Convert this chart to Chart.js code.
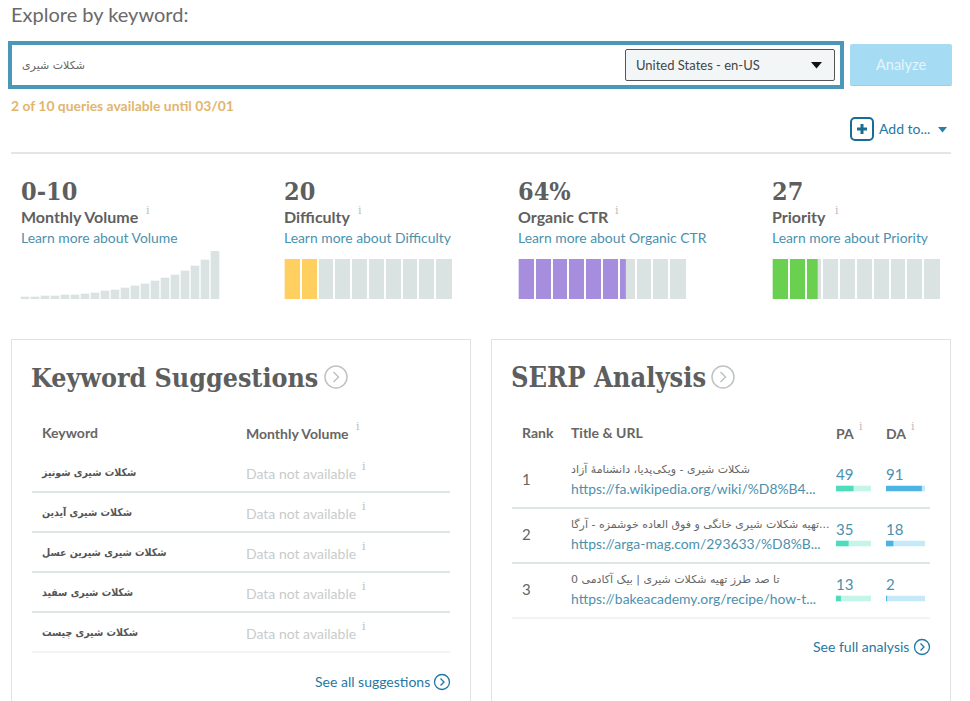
<!DOCTYPE html>
<html>
<head>
<meta charset="utf-8">
<title>Explore by keyword</title>
<script src="https://cdn.jsdelivr.net/npm/chart.js@4"></script>
<style>
    html, body { margin: 0; padding: 0; background: #fff; }
    body { width: 970px; height: 701px; overflow: hidden; position: relative; font-family: Lato, sans-serif; color: #5f6060; }
    .t { position: absolute; white-space: nowrap; line-height: 20px; height: 20px; }
    .box { position: absolute; box-sizing: border-box; }
    canvas { position: absolute; display: block; }
    .slab { font-family: "DejaVu Serif", serif; font-weight: 700; font-stretch: condensed; color: #5d5e5e; }
    .link { color: #4b91ae; font-size: 13.9px; }
    .dark-link { color: #1f78a4; font-size: 14px; }
    .head { font-size: 14px; font-weight: 700; color: #666; }
    .i { position: absolute; font-family: "DejaVu Serif", serif; font-size: 11px; line-height: 10px; color: #bcbcbc; }
    .fa { font-family: "DejaVu Sans", sans-serif; }
    .line { position: absolute; height: 2px; background: #dfe4e4; }
    svg { position: absolute; }
</style>
</head>
<body>
<div class="t" style="left:11px;top:4px;font-size:20px;color:#6a6a6a">Explore by keyword:</div>

<div class="box" style="left:8px;top:41px;width:836px;height:48px;border:4px solid #4a97b8"></div>
<div class="t fa" dir="rtl" style="left:22px;top:56px;font-size:11px;color:#666">شکلات شیری</div>
<div class="box" style="left:625px;top:49px;width:210px;height:32px;background:#f2f6f6;border:1px solid #555;border-radius:2px"></div>
<div class="t" style="left:636px;top:55px;font-size:13px;color:#444">United States - en-US</div>
<svg style="left:811px;top:62px" width="11" height="7"><path d="M0 0H11L5.5 6.5Z" fill="#111"/></svg>
<div class="box" style="left:850px;top:44px;width:102px;height:42px;background:#a6dcf3;border-radius:2px;border-bottom:1px solid #9ccfe6"></div>
<div class="t" style="left:876px;top:55px;font-size:14.5px;color:#e4f5fc">Analyze</div>

<div class="t" style="left:11px;top:96px;font-size:13.9px;font-weight:700;color:#e2b56c">2 of 10 queries available until 03/01</div>

<div class="box" style="left:850px;top:117px;width:24px;height:24px;border:2px solid #1a6c93;border-radius:5px"></div>
<svg style="left:857px;top:124px" width="10" height="10"><path d="M3.5 0h3v3.5H10v3H6.5V10h-3V6.5H0v-3h3.5Z" fill="#1a6c93"/></svg>
<div class="t dark-link" style="left:879px;top:119px">Add to...</div>
<svg style="left:938px;top:127px" width="9" height="6"><path d="M0 0H9L4.5 5.5Z" fill="#2a7fa8"/></svg>
<div class="line" style="left:11px;top:152px;width:940px;background:#e3e6e6"></div>

<div id="kpis"></div>

<canvas id="volumeChart" width="200" height="48" style="left:20px;top:251px"></canvas>
<canvas id="difficultyChart" width="168" height="40" style="left:284px;top:259px"></canvas>
<canvas id="ctrChart" width="168" height="40" style="left:518px;top:259px"></canvas>
<canvas id="priorityChart" width="168" height="40" style="left:772px;top:259px"></canvas>

<div class="box" style="left:11px;top:339px;width:460px;height:400px;border:1px solid #dfe3e3"></div>
<div class="box" style="left:491px;top:339px;width:460px;height:400px;border:1px solid #dfe3e3"></div>

<div class="t slab" style="left:31px;top:368px;font-size:26.6px">Keyword Suggestions</div>
<svg style="left:324px;top:365px" width="24" height="24"><circle cx="12" cy="12" r="11" fill="none" stroke="#bfc3c3" stroke-width="1.5"/><path d="M9.5 7l5 5-5 5" fill="none" stroke="#bfc3c3" stroke-width="1.5"/></svg>
<div class="t slab" style="left:511px;top:368px;font-size:27px">SERP Analysis</div>
<svg style="left:711px;top:365px" width="24" height="24"><circle cx="12" cy="12" r="11" fill="none" stroke="#bfc3c3" stroke-width="1.5"/><path d="M9.5 7l5 5-5 5" fill="none" stroke="#bfc3c3" stroke-width="1.5"/></svg>

<div class="t head" style="left:42px;top:423px">Keyword</div>
<div class="t head" style="left:246px;top:424px">Monthly Volume</div>
<div class="i" style="left:356px;top:422px">i</div>
<div id="suggestions"></div>
<div class="t dark-link" style="left:315px;top:672px">See all suggestions</div>
<svg style="left:433px;top:673px" width="18" height="18"><circle cx="9" cy="9" r="7.5" fill="none" stroke="#1f78a4" stroke-width="1.3"/><path d="M7.5 5.5l3.5 3.5-3.5 3.5" fill="none" stroke="#1f78a4" stroke-width="1.3"/></svg>

<div class="t head" style="left:522px;top:423px">Rank</div>
<div class="t head" style="left:571px;top:423px">Title &amp; URL</div>
<div class="t head" style="left:836px;top:424px">PA</div>
<div class="t head" style="left:886px;top:424px">DA</div>
<div class="i" style="left:859px;top:422px">i</div>
<div class="i" style="left:911px;top:422px">i</div>
<div id="serpRows"></div>
<canvas id="paChart" width="35" height="165" style="left:836px;top:461px"></canvas>
<canvas id="daChart" width="39" height="165" style="left:886px;top:461px"></canvas>
<div class="t dark-link" style="left:813px;top:637px">See full analysis</div>
<svg style="left:913px;top:638px" width="18" height="18"><circle cx="9" cy="9" r="7.5" fill="none" stroke="#1f78a4" stroke-width="1.3"/><path d="M7.5 5.5l3.5 3.5-3.5 3.5" fill="none" stroke="#1f78a4" stroke-width="1.3"/></svg>

<script>
const volumeMonths = ['1', '2', '3', '4', '5', '6', '7', '8', '9', '10', '11', '12', '13', '14', '15', '16', '17', '18', '19', '20'];
const volumeValues = [2, 2, 3, 3, 4, 4, 5, 6, 8, 9, 11, 13, 15, 18, 21, 24, 28, 33, 39, 48];

const kpiValues = ['0-10', '20', '64%', '27'];
const kpiLabels = ['Monthly Volume', 'Difficulty', 'Organic CTR', 'Priority'];
const kpiLinks = ['Learn more about Volume', 'Learn more about Difficulty', 'Learn more about Organic CTR', 'Learn more about Priority'];
const kpiLeft = [21, 284, 518, 772];
const kpiInfoLeft = [146, 358, 615, 835];

const difficulty = 20;
const organicCtr = 64;
const priority = 27;

const suggestedKeywords = ['شکلات شیری شونیز', 'شکلات شیری آیدین', 'شکلات شیری شیرین عسل', 'شکلات شیری سفید', 'شکلات شیری چیست'];

const serpRanks = ['1', '2', '3'];
const serpTitles = ['شکلات شیری - ویکی‌پدیا، دانشنامهٔ آزاد', '...تهیه شکلات شیری خانگی و فوق العاده خوشمزه - آرگا', 'تا صد طرز تهیه شکلات شیری | بیک آکادمی 0'];
const serpUrls = ['https://fa.wikipedia.org/wiki/%D8%B4...', 'https://arga-mag.com/293633/%D8%B...', 'https://bakeacademy.org/recipe/how-t...'];
const paValues = [49, 35, 13];
const daValues = [91, 18, 2];

// Testi KPI
document.getElementById('kpis').innerHTML = kpiValues.map((v, i) => `
    <div class="t slab" style="left:${kpiLeft[i]}px;top:182px;font-size:25px">${v}</div>
    <div class="t" style="left:${kpiLeft[i]}px;top:207px;font-size:16px;font-weight:700;color:#5f6060">${kpiLabels[i]}</div>
    <div class="i" style="left:${kpiInfoLeft[i]}px;top:206px">i</div>
    <div class="t link" style="left:${kpiLeft[i]}px;top:228px">${kpiLinks[i]}</div>
`).join('');

// Tabella suggerimenti
document.getElementById('suggestions').innerHTML = suggestedKeywords.map((k, i) => `
    <div class="t fa" dir="rtl" style="left:42px;top:${462 + i * 40}px;font-size:10.5px;font-weight:700;font-stretch:condensed;color:#555">${k}</div>
    <div class="t" style="left:246px;top:${464 + i * 40}px;font-size:14px;color:#c8cccc">Data not available</div>
    <div class="i" style="left:362px;top:${462 + i * 40}px">i</div>
    <div class="line" style="left:32px;top:${491 + i * 40}px;width:418px;${i === 4 ? 'background:#f1f4f4' : ''}"></div>
`).join('');

// Tabella SERP
document.getElementById('serpRows').innerHTML = serpRanks.map((r, i) => `
    <div class="t" style="left:522px;top:${469 + i * 55}px;font-size:15px;color:#666">${r}</div>
    <div class="t fa" dir="rtl" style="left:571px;top:${460 + i * 55}px;font-size:11px;color:#666">${serpTitles[i]}</div>
    <div class="t link" style="left:571px;top:${479 + i * 55}px">${serpUrls[i]}</div>
    <div class="t link" style="left:836px;top:${464 + i * 55}px;font-size:15px">${paValues[i]}</div>
    <div class="t link" style="left:886px;top:${464 + i * 55}px;font-size:15px">${daValues[i]}</div>
    <div class="line" style="left:512px;top:${507 + i * 55}px;width:418px;${i === 2 ? 'background:#f1f4f4' : ''}"></div>
`).join('');

// Opzioni comuni: nessun asse visibile, l'area del grafico riempie il canvas
function bareOptions(extra) {
    return Object.assign({
        responsive: false,
        animation: false,
        layout: { padding: 0 },
        plugins: { legend: { display: false }, tooltip: { enabled: false } }
    }, extra);
}

// Istogramma volume mensile
new Chart(document.getElementById('volumeChart'), {
    type: 'bar',
    data: {
        labels: volumeMonths,
        datasets: [{ data: volumeValues, backgroundColor: '#dbe2e2', barThickness: 8 }]
    },
    options: bareOptions({
        scales: {
            x: { display: false },
            y: { display: false, min: 0, max: 48 }
        }
    })
});

// Barra a segmenti: le griglie bianche sopra le barre fanno da separatori
function meterChart(id, value, color) {
    new Chart(document.getElementById(id), {
        type: 'bar',
        data: {
            labels: [''],
            datasets: [
                { data: [value], backgroundColor: color, barPercentage: 1, categoryPercentage: 1 },
                { data: [100 - value], backgroundColor: '#dbe2e2', barPercentage: 1, categoryPercentage: 1 }
            ]
        },
        options: bareOptions({
            indexAxis: 'y',
            scales: {
                x: {
                    stacked: true,
                    min: 0,
                    max: 100,
                    ticks: { display: false, stepSize: 10 },
                    border: { display: false },
                    grid: {
                        z: 1,
                        drawTicks: false,
                        lineWidth: 2,
                        color: (ctx) => (ctx.tick.value > 0 && ctx.tick.value < 100) ? '#fff' : 'transparent'
                    }
                },
                y: { stacked: true, display: false }
            }
        })
    });
}

meterChart('difficultyChart', difficulty, '#ffd060');
meterChart('ctrChart', organicCtr, '#a78ddd');
meterChart('priorityChart', priority, '#6ad04f');

// Barre PA / DA, una riga per risultato
function scoreChart(id, values, color, track) {
    new Chart(document.getElementById(id), {
        type: 'bar',
        data: {
            labels: serpRanks,
            datasets: [
                { data: values, backgroundColor: color, barThickness: 5 },
                { data: values.map(v => 100 - v), backgroundColor: track, barThickness: 5 }
            ]
        },
        options: bareOptions({
            indexAxis: 'y',
            scales: {
                x: { stacked: true, display: false, min: 0, max: 100 },
                y: { stacked: true, display: false }
            }
        })
    });
}

scoreChart('paChart', paValues, '#4fdcbc', '#c5f5e9');
scoreChart('daChart', daValues, '#4db3e2', '#c5e9f8');
</script>
</body>
</html>
